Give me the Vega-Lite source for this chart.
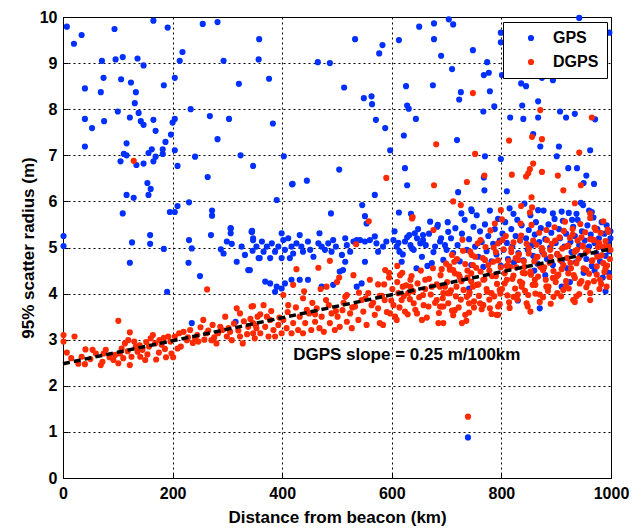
{
"$schema": "https://vega.github.io/schema/vega-lite/v6.json",
"width": 548, "height": 461,
"autosize": {"type": "none"},
"padding": {"left": 63, "top": 17, "right": 29, "bottom": 51},
"background": "white",
"config": {
 "font": "Liberation Sans",
 "view": {"stroke": "#000", "strokeWidth": 1},
 "axis": {"labelFont": "Liberation Sans", "labelFontWeight": "bold", "labelFontSize": 16, "labelColor": "#000", "titleFont": "Liberation Sans", "titleFontWeight": "bold", "titleFontSize": 17, "titleColor": "#000", "domainColor": "#000", "tickColor": "#000", "gridColor": "#000", "gridDash": [2, 3], "gridOpacity": 1, "gridWidth": 1, "tickSize": -5, "labelFlush": false},
 "axisX": {"labelPadding": 12},
 "axisY": {"labelPadding": 11}
},
"layer": [
{
"data": {"values": [
{"d":7,"r":9.79,"s":"GPS"},{"d":20,"r":9.42,"s":"GPS"},{"d":34,"r":9.61,"s":"GPS"},{"d":94,"r":9.74,"s":"GPS"},{"d":165,"r":9.92,"s":"GPS"},{"d":191,"r":9.77,"s":"GPS"},{"d":255,"r":9.85,"s":"GPS"},{"d":282,"r":9.89,"s":"GPS"},{"d":358,"r":9.52,"s":"GPS"},{"d":71,"r":9.05,"s":"GPS"},{"d":96,"r":9.08,"s":"GPS"},{"d":109,"r":9.13,"s":"GPS"},{"d":136,"r":9.10,"s":"GPS"},{"d":147,"r":8.95,"s":"GPS"},{"d":213,"r":9.05,"s":"GPS"},{"d":218,"r":9.24,"s":"GPS"},{"d":293,"r":9.05,"s":"GPS"},{"d":357,"r":9.08,"s":"GPS"},{"d":465,"r":9.02,"s":"GPS"},{"d":487,"r":9.0,"s":"GPS"},{"d":74,"r":8.68,"s":"GPS"},{"d":106,"r":8.65,"s":"GPS"},{"d":124,"r":8.58,"s":"GPS"},{"d":204,"r":8.68,"s":"GPS"},{"d":184,"r":8.52,"s":"GPS"},{"d":321,"r":8.55,"s":"GPS"},{"d":376,"r":8.66,"s":"GPS"},{"d":40,"r":8.45,"s":"GPS"},{"d":69,"r":8.37,"s":"GPS"},{"d":133,"r":8.37,"s":"GPS"},{"d":131,"r":8.13,"s":"GPS"},{"d":233,"r":8.0,"s":"GPS"},{"d":100,"r":7.95,"s":"GPS"},{"d":138,"r":7.92,"s":"GPS"},{"d":268,"r":7.85,"s":"GPS"},{"d":303,"r":7.79,"s":"GPS"},{"d":40,"r":7.79,"s":"GPS"},{"d":75,"r":7.74,"s":"GPS"},{"d":122,"r":7.82,"s":"GPS"},{"d":142,"r":7.74,"s":"GPS"},{"d":147,"r":7.66,"s":"GPS"},{"d":165,"r":7.77,"s":"GPS"},{"d":204,"r":7.79,"s":"GPS"},{"d":200,"r":7.71,"s":"GPS"},{"d":383,"r":7.69,"s":"GPS"},{"d":53,"r":7.59,"s":"GPS"},{"d":169,"r":7.53,"s":"GPS"},{"d":197,"r":7.45,"s":"GPS"},{"d":282,"r":7.35,"s":"GPS"},{"d":187,"r":7.29,"s":"GPS"},{"d":116,"r":7.26,"s":"GPS"},{"d":40,"r":7.19,"s":"GPS"},{"d":204,"r":7.11,"s":"GPS"},{"d":162,"r":7.13,"s":"GPS"},{"d":156,"r":7.05,"s":"GPS"},{"d":182,"r":7.13,"s":"GPS"},{"d":182,"r":7.03,"s":"GPS"},{"d":111,"r":7.03,"s":"GPS"},{"d":116,"r":7.0,"s":"GPS"},{"d":169,"r":6.97,"s":"GPS"},{"d":165,"r":6.87,"s":"GPS"},{"d":241,"r":6.97,"s":"GPS"},{"d":324,"r":7.0,"s":"GPS"},{"d":403,"r":6.98,"s":"GPS"},{"d":105,"r":6.87,"s":"GPS"},{"d":134,"r":6.79,"s":"GPS"},{"d":147,"r":6.82,"s":"GPS"},{"d":209,"r":6.77,"s":"GPS"},{"d":347,"r":6.77,"s":"GPS"},{"d":504,"r":6.69,"s":"GPS"},{"d":264,"r":6.53,"s":"GPS"},{"d":418,"r":6.37,"s":"GPS"},{"d":445,"r":6.45,"s":"GPS"},{"d":154,"r":6.40,"s":"GPS"},{"d":160,"r":6.27,"s":"GPS"},{"d":156,"r":6.14,"s":"GPS"},{"d":116,"r":6.14,"s":"GPS"},{"d":129,"r":6.08,"s":"GPS"},{"d":230,"r":5.98,"s":"GPS"},{"d":390,"r":6.03,"s":"GPS"},{"d":109,"r":5.74,"s":"GPS"},{"d":195,"r":5.77,"s":"GPS"},{"d":204,"r":5.77,"s":"GPS"},{"d":209,"r":5.90,"s":"GPS"},{"d":272,"r":5.80,"s":"GPS"},{"d":272,"r":5.69,"s":"GPS"},{"d":489,"r":5.74,"s":"GPS"},{"d":306,"r":5.41,"s":"GPS"},{"d":345,"r":5.36,"s":"GPS"},
{"d":942,"r":9.98,"s":"GPS"},{"d":997,"r":9.66,"s":"GPS"},{"d":650,"r":9.79,"s":"GPS"},{"d":677,"r":9.86,"s":"GPS"},{"d":704,"r":9.95,"s":"GPS"},{"d":712,"r":9.84,"s":"GPS"},{"d":533,"r":9.52,"s":"GPS"},{"d":613,"r":9.50,"s":"GPS"},{"d":677,"r":9.52,"s":"GPS"},{"d":583,"r":9.39,"s":"GPS"},{"d":577,"r":9.21,"s":"GPS"},{"d":690,"r":9.16,"s":"GPS"},{"d":748,"r":9.28,"s":"GPS"},{"d":799,"r":9.66,"s":"GPS"},{"d":799,"r":9.45,"s":"GPS"},{"d":774,"r":9.02,"s":"GPS"},{"d":710,"r":8.87,"s":"GPS"},{"d":768,"r":8.74,"s":"GPS"},{"d":777,"r":8.79,"s":"GPS"},{"d":801,"r":8.74,"s":"GPS"},{"d":874,"r":8.68,"s":"GPS"},{"d":894,"r":8.63,"s":"GPS"},{"d":513,"r":8.47,"s":"GPS"},{"d":549,"r":8.24,"s":"GPS"},{"d":563,"r":8.28,"s":"GPS"},{"d":564,"r":8.11,"s":"GPS"},{"d":626,"r":8.50,"s":"GPS"},{"d":675,"r":8.52,"s":"GPS"},{"d":726,"r":8.37,"s":"GPS"},{"d":723,"r":8.21,"s":"GPS"},{"d":779,"r":8.39,"s":"GPS"},{"d":836,"r":8.56,"s":"GPS"},{"d":845,"r":8.50,"s":"GPS"},{"d":867,"r":8.17,"s":"GPS"},{"d":787,"r":8.06,"s":"GPS"},{"d":767,"r":7.95,"s":"GPS"},{"d":628,"r":8.08,"s":"GPS"},{"d":631,"r":8.01,"s":"GPS"},{"d":838,"r":8.08,"s":"GPS"},{"d":571,"r":7.77,"s":"GPS"},{"d":644,"r":7.79,"s":"GPS"},{"d":816,"r":7.82,"s":"GPS"},{"d":840,"r":7.79,"s":"GPS"},{"d":867,"r":7.82,"s":"GPS"},{"d":907,"r":7.95,"s":"GPS"},{"d":918,"r":7.82,"s":"GPS"},{"d":934,"r":7.90,"s":"GPS"},{"d":971,"r":7.78,"s":"GPS"},{"d":588,"r":7.59,"s":"GPS"},{"d":622,"r":7.43,"s":"GPS"},{"d":719,"r":7.33,"s":"GPS"},{"d":858,"r":7.46,"s":"GPS"},{"d":871,"r":7.19,"s":"GPS"},{"d":905,"r":7.19,"s":"GPS"},{"d":962,"r":7.11,"s":"GPS"},{"d":597,"r":7.11,"s":"GPS"},{"d":770,"r":6.98,"s":"GPS"},{"d":799,"r":6.92,"s":"GPS"},{"d":901,"r":6.98,"s":"GPS"},{"d":624,"r":6.72,"s":"GPS"},{"d":922,"r":6.72,"s":"GPS"},{"d":938,"r":6.72,"s":"GPS"},{"d":955,"r":6.56,"s":"GPS"},{"d":950,"r":6.40,"s":"GPS"},{"d":969,"r":6.38,"s":"GPS"},{"d":768,"r":6.52,"s":"GPS"},{"d":628,"r":6.35,"s":"GPS"},{"d":769,"r":6.24,"s":"GPS"},{"d":721,"r":6.20,"s":"GPS"},{"d":810,"r":6.22,"s":"GPS"},{"d":569,"r":6.14,"s":"GPS"},{"d":546,"r":5.92,"s":"GPS"},{"d":945,"r":5.97,"s":"GPS"},{"d":745,"r":5.83,"s":"GPS"},{"d":746,"r":5.79,"s":"GPS"},{"d":867,"r":5.81,"s":"GPS"},{"d":613,"r":5.76,"s":"GPS"},{"d":635,"r":5.73,"s":"GPS"},{"d":727,"r":5.74,"s":"GPS"},{"d":551,"r":5.68,"s":"GPS"},{"d":670,"r":5.56,"s":"GPS"},{"d":684,"r":5.49,"s":"GPS"},{"d":822,"r":5.73,"s":"GPS"},{"d":894,"r":5.74,"s":"GPS"},{"d":910,"r":5.78,"s":"GPS"},{"d":929,"r":5.60,"s":"GPS"},{"d":960,"r":5.80,"s":"GPS"},{"d":965,"r":5.77,"s":"GPS"},{"d":937,"r":5.73,"s":"GPS"},
{"d":1,"r":5.25,"s":"GPS"},{"d":1,"r":5.03,"s":"GPS"},{"d":159,"r":5.27,"s":"GPS"},{"d":159,"r":5.08,"s":"GPS"},{"d":126,"r":5.11,"s":"GPS"},{"d":122,"r":4.67,"s":"GPS"},{"d":184,"r":4.97,"s":"GPS"},{"d":190,"r":4.04,"s":"GPS"},{"d":230,"r":5.16,"s":"GPS"},{"d":235,"r":4.98,"s":"GPS"},{"d":229,"r":4.67,"s":"GPS"},{"d":250,"r":4.38,"s":"GPS"},{"d":270,"r":5.27,"s":"GPS"},{"d":306,"r":5.42,"s":"GPS"},{"d":306,"r":5.31,"s":"GPS"},{"d":299,"r":5.13,"s":"GPS"},{"d":288,"r":4.96,"s":"GPS"},{"d":293,"r":4.87,"s":"GPS"},{"d":308,"r":5.08,"s":"GPS"},{"d":317,"r":4.69,"s":"GPS"},{"d":326,"r":5.02,"s":"GPS"},{"d":332,"r":4.84,"s":"GPS"},{"d":338,"r":4.51,"s":"GPS"},{"d":345,"r":5.34,"s":"GPS"},{"d":347,"r":5.16,"s":"GPS"},{"d":346,"r":4.93,"s":"GPS"},{"d":357,"r":4.77,"s":"GPS"},{"d":235,"r":3.36,"s":"GPS"},{"d":315,"r":3.39,"s":"GPS"},
{"d":419,"r":6.38,"s":"GPS"},{"d":703,"r":5.34,"s":"GPS"},{"d":554,"r":5.52,"s":"GPS"},{"d":642,"r":5.31,"s":"GPS"},{"d":657,"r":5.27,"s":"GPS"},
{"d":344,"r":5.34,"s":"GPS"},{"d":347,"r":5.20,"s":"GPS"},{"d":353,"r":5.02,"s":"GPS"},{"d":363,"r":5.13,"s":"GPS"},{"d":366,"r":4.91,"s":"GPS"},{"d":359,"r":4.77,"s":"GPS"},{"d":372,"r":5.02,"s":"GPS"},{"d":378,"r":4.77,"s":"GPS"},{"d":381,"r":5.09,"s":"GPS"},{"d":387,"r":4.91,"s":"GPS"},{"d":393,"r":5.02,"s":"GPS"},{"d":399,"r":5.31,"s":"GPS"},{"d":402,"r":5.16,"s":"GPS"},{"d":405,"r":4.95,"s":"GPS"},{"d":399,"r":4.77,"s":"GPS"},{"d":411,"r":5.20,"s":"GPS"},{"d":417,"r":5.02,"s":"GPS"},{"d":420,"r":4.87,"s":"GPS"},{"d":414,"r":4.77,"s":"GPS"},{"d":432,"r":5.27,"s":"GPS"},{"d":426,"r":5.09,"s":"GPS"},{"d":435,"r":5.02,"s":"GPS"},{"d":438,"r":4.91,"s":"GPS"},{"d":447,"r":5.13,"s":"GPS"},{"d":451,"r":4.95,"s":"GPS"},{"d":457,"r":4.80,"s":"GPS"},{"d":466,"r":5.09,"s":"GPS"},{"d":468,"r":5.31,"s":"GPS"},{"d":472,"r":5.02,"s":"GPS"},{"d":478,"r":4.95,"s":"GPS"},{"d":484,"r":5.09,"s":"GPS"},{"d":490,"r":4.91,"s":"GPS"},{"d":493,"r":5.16,"s":"GPS"},{"d":498,"r":5.02,"s":"GPS"},{"d":509,"r":4.84,"s":"GPS"},{"d":515,"r":5.20,"s":"GPS"},{"d":518,"r":5.05,"s":"GPS"},{"d":524,"r":4.91,"s":"GPS"},{"d":515,"r":4.69,"s":"GPS"},{"d":511,"r":4.51,"s":"GPS"},{"d":530,"r":5.13,"s":"GPS"},{"d":536,"r":5.16,"s":"GPS"},{"d":542,"r":5.16,"s":"GPS"},{"d":551,"r":5.13,"s":"GPS"},{"d":560,"r":5.16,"s":"GPS"},{"d":569,"r":5.24,"s":"GPS"},{"d":572,"r":5.09,"s":"GPS"},{"d":551,"r":4.69,"s":"GPS"},{"d":575,"r":4.91,"s":"GPS"},{"d":584,"r":5.02,"s":"GPS"},{"d":590,"r":5.13,"s":"GPS"},{"d":603,"r":5.16,"s":"GPS"},{"d":609,"r":5.02,"s":"GPS"},{"d":614,"r":4.91,"s":"GPS"},{"d":618,"r":4.69,"s":"GPS"},{"d":624,"r":5.13,"s":"GPS"},{"d":632,"r":5.27,"s":"GPS"},{"d":634,"r":5.05,"s":"GPS"},{"d":637,"r":4.98,"s":"GPS"},{"d":646,"r":5.20,"s":"GPS"},{"d":652,"r":5.09,"s":"GPS"},{"d":657,"r":5.16,"s":"GPS"},{"d":673,"r":4.66,"s":"GPS"},{"d":679,"r":5.02,"s":"GPS"},{"d":688,"r":5.13,"s":"GPS"},{"d":694,"r":4.73,"s":"GPS"},{"d":700,"r":4.95,"s":"GPS"},
{"d":378,"r":4.22,"s":"GPS"},{"d":390,"r":4.15,"s":"GPS"},{"d":399,"r":4.11,"s":"GPS"},{"d":405,"r":4.22,"s":"GPS"},{"d":387,"r":4.04,"s":"GPS"},{"d":369,"r":4.26,"s":"GPS"},{"d":417,"r":4.30,"s":"GPS"},{"d":432,"r":4.30,"s":"GPS"},{"d":447,"r":4.30,"s":"GPS"},{"d":472,"r":4.15,"s":"GPS"},{"d":493,"r":4.19,"s":"GPS"},{"d":505,"r":4.48,"s":"GPS"},{"d":536,"r":4.15,"s":"GPS"},{"d":545,"r":4.22,"s":"GPS"},{"d":341,"r":4.51,"s":"GPS"},
{"d":605,"r":5.35,"s":"GPS"},{"d":612,"r":5.10,"s":"GPS"},{"d":620,"r":4.85,"s":"GPS"},{"d":628,"r":5.22,"s":"GPS"},{"d":640,"r":4.95,"s":"GPS"},{"d":648,"r":5.40,"s":"GPS"},{"d":655,"r":4.80,"s":"GPS"},{"d":662,"r":5.05,"s":"GPS"},{"d":668,"r":5.30,"s":"GPS"},{"d":676,"r":4.90,"s":"GPS"},{"d":683,"r":5.45,"s":"GPS"},{"d":690,"r":5.20,"s":"GPS"},{"d":697,"r":5.05,"s":"GPS"},{"d":665,"r":4.60,"s":"GPS"},{"d":645,"r":4.55,"s":"GPS"},
{"d":702,"r":5.55,"s":"GPS"},{"d":708,"r":5.20,"s":"GPS"},{"d":712,"r":4.88,"s":"GPS"},{"d":716,"r":5.42,"s":"GPS"},{"d":720,"r":5.05,"s":"GPS"},{"d":724,"r":4.70,"s":"GPS"},{"d":728,"r":5.30,"s":"GPS"},{"d":733,"r":5.60,"s":"GPS"},{"d":737,"r":4.95,"s":"GPS"},{"d":741,"r":5.18,"s":"GPS"},{"d":745,"r":4.62,"s":"GPS"},{"d":749,"r":5.45,"s":"GPS"},{"d":752,"r":5.02,"s":"GPS"},{"d":755,"r":5.70,"s":"GPS"},{"d":758,"r":4.80,"s":"GPS"},{"d":761,"r":5.35,"s":"GPS"},{"d":764,"r":5.12,"s":"GPS"},{"d":767,"r":4.58,"s":"GPS"},{"d":770,"r":5.50,"s":"GPS"},{"d":773,"r":4.92,"s":"GPS"},{"d":776,"r":5.25,"s":"GPS"},{"d":779,"r":5.80,"s":"GPS"},{"d":782,"r":4.70,"s":"GPS"},{"d":785,"r":5.08,"s":"GPS"},{"d":788,"r":5.40,"s":"GPS"},{"d":791,"r":4.85,"s":"GPS"},{"d":794,"r":5.62,"s":"GPS"},{"d":797,"r":5.15,"s":"GPS"},{"d":799,"r":4.60,"s":"GPS"},{"d":802,"r":5.30,"s":"GPS"},{"d":804,"r":4.95,"s":"GPS"},{"d":807,"r":5.55,"s":"GPS"},{"d":810,"r":5.10,"s":"GPS"},{"d":812,"r":4.75,"s":"GPS"},{"d":815,"r":5.85,"s":"GPS"},{"d":818,"r":5.40,"s":"GPS"},{"d":820,"r":5.02,"s":"GPS"},{"d":823,"r":4.68,"s":"GPS"},{"d":826,"r":5.25,"s":"GPS"},{"d":829,"r":5.60,"s":"GPS"},{"d":831,"r":4.88,"s":"GPS"},{"d":834,"r":5.15,"s":"GPS"},{"d":837,"r":5.48,"s":"GPS"},{"d":840,"r":4.72,"s":"GPS"},{"d":842,"r":5.95,"s":"GPS"},{"d":845,"r":5.20,"s":"GPS"},{"d":848,"r":4.95,"s":"GPS"},{"d":850,"r":5.38,"s":"GPS"},{"d":853,"r":5.70,"s":"GPS"},{"d":855,"r":5.05,"s":"GPS"},{"d":858,"r":4.82,"s":"GPS"},{"d":861,"r":5.28,"s":"GPS"},{"d":863,"r":5.55,"s":"GPS"},{"d":866,"r":4.65,"s":"GPS"},{"d":869,"r":5.12,"s":"GPS"},{"d":872,"r":5.42,"s":"GPS"},{"d":875,"r":4.90,"s":"GPS"},{"d":877,"r":5.80,"s":"GPS"},{"d":880,"r":5.18,"s":"GPS"},{"d":883,"r":4.75,"s":"GPS"},{"d":886,"r":5.50,"s":"GPS"},{"d":889,"r":5.00,"s":"GPS"},{"d":891,"r":5.32,"s":"GPS"},{"d":894,"r":4.62,"s":"GPS"},{"d":897,"r":5.62,"s":"GPS"},{"d":899,"r":5.10,"s":"GPS"},{"d":902,"r":4.85,"s":"GPS"},{"d":905,"r":5.40,"s":"GPS"},{"d":907,"r":5.20,"s":"GPS"},{"d":910,"r":4.70,"s":"GPS"},{"d":912,"r":5.58,"s":"GPS"},{"d":915,"r":5.02,"s":"GPS"},{"d":918,"r":5.30,"s":"GPS"},{"d":920,"r":4.55,"s":"GPS"},{"d":923,"r":5.75,"s":"GPS"},{"d":926,"r":5.12,"s":"GPS"},{"d":928,"r":4.90,"s":"GPS"},{"d":931,"r":5.45,"s":"GPS"},{"d":934,"r":5.25,"s":"GPS"},{"d":936,"r":4.68,"s":"GPS"},{"d":939,"r":5.60,"s":"GPS"},{"d":942,"r":5.05,"s":"GPS"},{"d":944,"r":4.82,"s":"GPS"},{"d":947,"r":5.35,"s":"GPS"},{"d":949,"r":5.92,"s":"GPS"},{"d":952,"r":5.15,"s":"GPS"},{"d":955,"r":4.75,"s":"GPS"},{"d":957,"r":5.48,"s":"GPS"},{"d":960,"r":5.02,"s":"GPS"},{"d":963,"r":5.28,"s":"GPS"},{"d":965,"r":4.60,"s":"GPS"},{"d":968,"r":5.65,"s":"GPS"},{"d":970,"r":5.10,"s":"GPS"},{"d":973,"r":4.88,"s":"GPS"},{"d":975,"r":5.40,"s":"GPS"},{"d":978,"r":5.20,"s":"GPS"},{"d":980,"r":4.70,"s":"GPS"},{"d":983,"r":5.55,"s":"GPS"},{"d":985,"r":5.00,"s":"GPS"},{"d":988,"r":5.30,"s":"GPS"},{"d":990,"r":4.82,"s":"GPS"},{"d":992,"r":5.48,"s":"GPS"},{"d":995,"r":5.12,"s":"GPS"},{"d":997,"r":4.92,"s":"GPS"},{"d":999,"r":5.35,"s":"GPS"},{"d":999,"r":5.20,"s":"GPS"},{"d":996,"r":4.45,"s":"GPS"},{"d":985,"r":4.35,"s":"GPS"},{"d":970,"r":4.50,"s":"GPS"},{"d":880,"r":4.40,"s":"GPS"},{"d":925,"r":4.25,"s":"GPS"},{"d":950,"r":4.45,"s":"GPS"},{"d":860,"r":4.50,"s":"GPS"},{"d":990,"r":4.05,"s":"GPS"},
{"d":741,"r":4.11,"s":"GPS"},{"d":830,"r":3.85,"s":"GPS"},{"d":870,"r":3.68,"s":"GPS"},{"d":910,"r":4.15,"s":"GPS"},{"d":739,"r":0.88,"s":"GPS"},
{"d":129,"r":6.88,"s":"DGPS"},{"d":748,"r":8.35,"s":"DGPS"},{"d":871,"r":7.98,"s":"DGPS"},{"d":965,"r":7.82,"s":"DGPS"},{"d":681,"r":7.24,"s":"DGPS"},{"d":814,"r":7.32,"s":"DGPS"},{"d":856,"r":7.40,"s":"DGPS"},{"d":874,"r":7.35,"s":"DGPS"},{"d":752,"r":7.03,"s":"DGPS"},{"d":942,"r":7.06,"s":"DGPS"},{"d":858,"r":6.82,"s":"DGPS"},{"d":852,"r":6.70,"s":"DGPS"},{"d":849,"r":6.61,"s":"DGPS"},{"d":845,"r":6.54,"s":"DGPS"},{"d":874,"r":6.64,"s":"DGPS"},{"d":819,"r":6.58,"s":"DGPS"},{"d":903,"r":6.56,"s":"DGPS"},{"d":769,"r":6.56,"s":"DGPS"},{"d":590,"r":6.51,"s":"DGPS"},{"d":737,"r":6.42,"s":"DGPS"},{"d":677,"r":6.35,"s":"DGPS"},{"d":945,"r":6.35,"s":"DGPS"},{"d":913,"r":6.24,"s":"DGPS"},{"d":712,"r":6.00,"s":"DGPS"},{"d":726,"r":5.92,"s":"DGPS"},{"d":855,"r":6.09,"s":"DGPS"},{"d":836,"r":5.90,"s":"DGPS"},{"d":934,"r":5.96,"s":"DGPS"},{"d":852,"r":5.76,"s":"DGPS"},{"d":856,"r":5.87,"s":"DGPS"},{"d":799,"r":5.81,"s":"DGPS"},{"d":962,"r":5.74,"s":"DGPS"},{"d":558,"r":5.57,"s":"DGPS"},{"d":637,"r":5.63,"s":"DGPS"},{"d":801,"r":5.61,"s":"DGPS"},{"d":788,"r":5.52,"s":"DGPS"},{"d":835,"r":5.52,"s":"DGPS"},{"d":638,"r":5.66,"s":"DGPS"},{"d":676,"r":5.38,"s":"DGPS"},{"d":535,"r":5.07,"s":"DGPS"},{"d":487,"r":4.71,"s":"DGPS"},{"d":426,"r":4.53,"s":"DGPS"},{"d":466,"r":4.56,"s":"DGPS"},{"d":504,"r":4.35,"s":"DGPS"},{"d":420,"r":4.19,"s":"DGPS"},{"d":588,"r":4.51,"s":"DGPS"},{"d":691,"r":4.53,"s":"DGPS"},{"d":615,"r":4.40,"s":"DGPS"},{"d":634,"r":4.30,"s":"DGPS"},{"d":661,"r":4.30,"s":"DGPS"},{"d":263,"r":4.09,"s":"DGPS"},{"d":101,"r":3.41,"s":"DGPS"},{"d":739,"r":1.33,"s":"DGPS"},
{"d":1,"r":3.10,"s":"DGPS"},{"d":1,"r":2.96,"s":"DGPS"},{"d":7,"r":2.72,"s":"DGPS"},{"d":21,"r":3.07,"s":"DGPS"},{"d":40,"r":2.47,"s":"DGPS"},{"d":34,"r":2.63,"s":"DGPS"},{"d":41,"r":2.79,"s":"DGPS"},{"d":54,"r":2.78,"s":"DGPS"},{"d":69,"r":2.45,"s":"DGPS"},{"d":72,"r":2.52,"s":"DGPS"},{"d":74,"r":2.70,"s":"DGPS"},{"d":78,"r":2.78,"s":"DGPS"},{"d":92,"r":2.56,"s":"DGPS"},{"d":95,"r":2.67,"s":"DGPS"},{"d":101,"r":2.49,"s":"DGPS"},{"d":104,"r":2.70,"s":"DGPS"},{"d":107,"r":2.81,"s":"DGPS"},{"d":113,"r":2.92,"s":"DGPS"},{"d":119,"r":2.99,"s":"DGPS"},{"d":122,"r":3.16,"s":"DGPS"},{"d":122,"r":2.45,"s":"DGPS"},{"d":125,"r":2.63,"s":"DGPS"},{"d":130,"r":2.96,"s":"DGPS"},{"d":133,"r":2.85,"s":"DGPS"},{"d":136,"r":2.74,"s":"DGPS"},{"d":141,"r":2.63,"s":"DGPS"},{"d":145,"r":2.78,"s":"DGPS"},{"d":150,"r":2.56,"s":"DGPS"},{"d":154,"r":2.68,"s":"DGPS"},{"d":157,"r":2.85,"s":"DGPS"},{"d":160,"r":3.03,"s":"DGPS"},{"d":164,"r":3.10,"s":"DGPS"},{"d":168,"r":2.92,"s":"DGPS"},{"d":170,"r":2.57,"s":"DGPS"},{"d":176,"r":2.99,"s":"DGPS"},{"d":180,"r":2.89,"s":"DGPS"},{"d":184,"r":3.04,"s":"DGPS"},{"d":188,"r":2.62,"s":"DGPS"},{"d":192,"r":3.07,"s":"DGPS"},{"d":196,"r":2.96,"s":"DGPS"},{"d":201,"r":2.62,"s":"DGPS"},{"d":204,"r":3.07,"s":"DGPS"},{"d":209,"r":2.81,"s":"DGPS"},{"d":212,"r":3.14,"s":"DGPS"},{"d":220,"r":3.17,"s":"DGPS"},{"d":226,"r":2.99,"s":"DGPS"},{"d":232,"r":3.21,"s":"DGPS"},{"d":237,"r":2.93,"s":"DGPS"},{"d":241,"r":3.03,"s":"DGPS"},{"d":247,"r":2.96,"s":"DGPS"},{"d":251,"r":3.27,"s":"DGPS"},{"d":256,"r":3.43,"s":"DGPS"},{"d":262,"r":3.14,"s":"DGPS"},{"d":271,"r":2.99,"s":"DGPS"},{"d":273,"r":3.32,"s":"DGPS"},{"d":280,"r":2.92,"s":"DGPS"},{"d":283,"r":3.14,"s":"DGPS"},{"d":291,"r":3.21,"s":"DGPS"},{"d":296,"r":3.50,"s":"DGPS"},{"d":299,"r":3.07,"s":"DGPS"},{"d":305,"r":3.17,"s":"DGPS"},{"d":308,"r":2.99,"s":"DGPS"},{"d":317,"r":3.68,"s":"DGPS"},{"d":323,"r":3.57,"s":"DGPS"},{"d":323,"r":3.07,"s":"DGPS"},{"d":328,"r":2.92,"s":"DGPS"},{"d":338,"r":3.28,"s":"DGPS"},{"d":347,"r":3.73,"s":"DGPS"},{"d":347,"r":3.14,"s":"DGPS"},{"d":355,"r":3.50,"s":"DGPS"},
{"d":15,"r":2.60,"s":"DGPS"},{"d":50,"r":2.58,"s":"DGPS"},{"d":85,"r":2.62,"s":"DGPS"},{"d":60,"r":2.70,"s":"DGPS"},{"d":28,"r":2.48,"s":"DGPS"},
{"d":110,"r":2.60,"s":"DGPS"},{"d":118,"r":2.75,"s":"DGPS"},{"d":140,"r":2.88,"s":"DGPS"},{"d":152,"r":2.95,"s":"DGPS"},{"d":175,"r":2.72,"s":"DGPS"},{"d":186,"r":2.80,"s":"DGPS"},{"d":198,"r":2.70,"s":"DGPS"},{"d":215,"r":2.85,"s":"DGPS"},{"d":228,"r":3.05,"s":"DGPS"},{"d":245,"r":3.10,"s":"DGPS"},{"d":258,"r":3.00,"s":"DGPS"},{"d":265,"r":3.20,"s":"DGPS"},{"d":276,"r":3.05,"s":"DGPS"},{"d":287,"r":3.28,"s":"DGPS"},{"d":302,"r":3.25,"s":"DGPS"},{"d":312,"r":3.35,"s":"DGPS"},{"d":320,"r":3.20,"s":"DGPS"},{"d":330,"r":3.40,"s":"DGPS"},{"d":336,"r":3.12,"s":"DGPS"},{"d":342,"r":3.45,"s":"DGPS"},{"d":352,"r":3.30,"s":"DGPS"},{"d":360,"r":3.55,"s":"DGPS"},{"d":372,"r":3.50,"s":"DGPS"},{"d":380,"r":3.62,"s":"DGPS"},{"d":395,"r":3.48,"s":"DGPS"},{"d":410,"r":3.60,"s":"DGPS"},{"d":425,"r":3.70,"s":"DGPS"},{"d":445,"r":3.65,"s":"DGPS"},{"d":460,"r":3.55,"s":"DGPS"},{"d":485,"r":3.75,"s":"DGPS"},{"d":498,"r":3.62,"s":"DGPS"},{"d":512,"r":3.80,"s":"DGPS"},{"d":528,"r":3.70,"s":"DGPS"},{"d":552,"r":3.90,"s":"DGPS"},{"d":566,"r":3.80,"s":"DGPS"},{"d":578,"r":3.95,"s":"DGPS"},
{"d":347,"r":3.36,"s":"DGPS"},{"d":353,"r":3.25,"s":"DGPS"},{"d":350,"r":3.03,"s":"DGPS"},{"d":360,"r":3.14,"s":"DGPS"},{"d":366,"r":3.75,"s":"DGPS"},{"d":369,"r":3.28,"s":"DGPS"},{"d":375,"r":3.07,"s":"DGPS"},{"d":378,"r":3.43,"s":"DGPS"},{"d":384,"r":3.21,"s":"DGPS"},{"d":387,"r":3.07,"s":"DGPS"},{"d":393,"r":3.32,"s":"DGPS"},{"d":399,"r":3.14,"s":"DGPS"},{"d":402,"r":3.43,"s":"DGPS"},{"d":408,"r":3.25,"s":"DGPS"},{"d":411,"r":3.75,"s":"DGPS"},{"d":417,"r":3.14,"s":"DGPS"},{"d":420,"r":3.36,"s":"DGPS"},{"d":429,"r":3.21,"s":"DGPS"},{"d":432,"r":3.50,"s":"DGPS"},{"d":438,"r":3.14,"s":"DGPS"},{"d":442,"r":3.36,"s":"DGPS"},{"d":449,"r":3.57,"s":"DGPS"},{"d":453,"r":3.21,"s":"DGPS"},{"d":460,"r":3.39,"s":"DGPS"},{"d":463,"r":3.68,"s":"DGPS"},{"d":468,"r":3.25,"s":"DGPS"},{"d":472,"r":3.50,"s":"DGPS"},{"d":476,"r":3.17,"s":"DGPS"},{"d":480,"r":3.86,"s":"DGPS"},{"d":481,"r":4.15,"s":"DGPS"},{"d":487,"r":3.36,"s":"DGPS"},{"d":490,"r":3.57,"s":"DGPS"},{"d":496,"r":3.21,"s":"DGPS"},{"d":501,"r":3.50,"s":"DGPS"},{"d":505,"r":3.28,"s":"DGPS"},{"d":510,"r":3.64,"s":"DGPS"},{"d":515,"r":3.93,"s":"DGPS"},{"d":518,"r":3.39,"s":"DGPS"},{"d":524,"r":3.57,"s":"DGPS"},{"d":527,"r":3.25,"s":"DGPS"},{"d":533,"r":3.72,"s":"DGPS"},{"d":539,"r":3.43,"s":"DGPS"},{"d":545,"r":3.86,"s":"DGPS"},{"d":548,"r":3.61,"s":"DGPS"},{"d":554,"r":3.32,"s":"DGPS"},{"d":557,"r":4.01,"s":"DGPS"},{"d":563,"r":3.75,"s":"DGPS"},{"d":569,"r":3.54,"s":"DGPS"},{"d":575,"r":3.68,"s":"DGPS"},{"d":578,"r":3.36,"s":"DGPS"},{"d":584,"r":3.32,"s":"DGPS"},{"d":587,"r":3.86,"s":"DGPS"},{"d":597,"r":3.57,"s":"DGPS"},{"d":603,"r":3.75,"s":"DGPS"},{"d":609,"r":3.43,"s":"DGPS"},{"d":612,"r":4.01,"s":"DGPS"},{"d":618,"r":3.86,"s":"DGPS"},{"d":624,"r":3.61,"s":"DGPS"},{"d":630,"r":4.01,"s":"DGPS"},{"d":634,"r":4.15,"s":"DGPS"},{"d":640,"r":3.79,"s":"DGPS"},{"d":646,"r":3.57,"s":"DGPS"},{"d":655,"r":3.43,"s":"DGPS"},{"d":657,"r":3.97,"s":"DGPS"},{"d":667,"r":3.72,"s":"DGPS"},{"d":673,"r":4.15,"s":"DGPS"},{"d":682,"r":3.86,"s":"DGPS"},{"d":685,"r":3.36,"s":"DGPS"},{"d":691,"r":3.72,"s":"DGPS"},{"d":694,"r":4.01,"s":"DGPS"},{"d":344,"r":3.72,"s":"DGPS"},
{"d":402,"r":3.97,"s":"DGPS"},{"d":438,"r":3.90,"s":"DGPS"},{"d":518,"r":3.97,"s":"DGPS"},{"d":688,"r":3.72,"s":"DGPS"},{"d":440,"r":4.05,"s":"DGPS"},{"d":470,"r":4.10,"s":"DGPS"},{"d":455,"r":3.80,"s":"DGPS"},{"d":500,"r":4.25,"s":"DGPS"},{"d":530,"r":4.40,"s":"DGPS"},{"d":560,"r":4.30,"s":"DGPS"},{"d":540,"r":4.02,"s":"DGPS"},{"d":575,"r":4.20,"s":"DGPS"},{"d":595,"r":4.45,"s":"DGPS"},{"d":610,"r":4.60,"s":"DGPS"},{"d":620,"r":4.15,"s":"DGPS"},
{"d":582,"r":3.95,"s":"DGPS"},{"d":586,"r":4.20,"s":"DGPS"},{"d":591,"r":3.60,"s":"DGPS"},{"d":595,"r":4.35,"s":"DGPS"},{"d":599,"r":3.85,"s":"DGPS"},{"d":601,"r":4.10,"s":"DGPS"},{"d":606,"r":3.50,"s":"DGPS"},{"d":610,"r":4.25,"s":"DGPS"},{"d":614,"r":3.70,"s":"DGPS"},{"d":619,"r":4.45,"s":"DGPS"},{"d":622,"r":3.95,"s":"DGPS"},{"d":626,"r":4.18,"s":"DGPS"},{"d":629,"r":3.55,"s":"DGPS"},{"d":633,"r":3.88,"s":"DGPS"},{"d":636,"r":4.38,"s":"DGPS"},{"d":639,"r":4.05,"s":"DGPS"},{"d":643,"r":3.65,"s":"DGPS"},{"d":647,"r":4.22,"s":"DGPS"},{"d":650,"r":3.92,"s":"DGPS"},{"d":653,"r":4.50,"s":"DGPS"},{"d":658,"r":3.75,"s":"DGPS"},{"d":661,"r":4.10,"s":"DGPS"},{"d":664,"r":3.48,"s":"DGPS"},{"d":668,"r":4.32,"s":"DGPS"},{"d":671,"r":3.98,"s":"DGPS"},{"d":675,"r":4.55,"s":"DGPS"},{"d":679,"r":3.80,"s":"DGPS"},{"d":682,"r":4.20,"s":"DGPS"},{"d":686,"r":3.58,"s":"DGPS"},{"d":689,"r":4.40,"s":"DGPS"},{"d":693,"r":3.90,"s":"DGPS"},{"d":697,"r":4.15,"s":"DGPS"},{"d":699,"r":4.65,"s":"DGPS"},
{"d":688,"r":4.15,"s":"DGPS"},{"d":694,"r":3.72,"s":"DGPS"},{"d":706,"r":4.01,"s":"DGPS"},{"d":712,"r":4.51,"s":"DGPS"},{"d":726,"r":4.30,"s":"DGPS"},{"d":728,"r":3.36,"s":"DGPS"},{"d":737,"r":3.93,"s":"DGPS"},{"d":745,"r":4.44,"s":"DGPS"},{"d":748,"r":4.15,"s":"DGPS"},{"d":761,"r":3.79,"s":"DGPS"},{"d":767,"r":4.30,"s":"DGPS"},{"d":779,"r":3.68,"s":"DGPS"},{"d":782,"r":4.01,"s":"DGPS"},{"d":794,"r":3.54,"s":"DGPS"},{"d":797,"r":4.08,"s":"DGPS"},{"d":810,"r":4.30,"s":"DGPS"},{"d":816,"r":4.58,"s":"DGPS"},{"d":822,"r":3.93,"s":"DGPS"},{"d":831,"r":4.73,"s":"DGPS"},{"d":837,"r":4.15,"s":"DGPS"},{"d":843,"r":4.44,"s":"DGPS"},{"d":849,"r":3.97,"s":"DGPS"},{"d":853,"r":3.61,"s":"DGPS"},{"d":861,"r":4.30,"s":"DGPS"},{"d":864,"r":4.80,"s":"DGPS"},{"d":870,"r":3.82,"s":"DGPS"},{"d":876,"r":4.51,"s":"DGPS"},{"d":882,"r":4.15,"s":"DGPS"},{"d":889,"r":4.95,"s":"DGPS"},{"d":895,"r":3.93,"s":"DGPS"},{"d":901,"r":4.37,"s":"DGPS"},{"d":907,"r":4.73,"s":"DGPS"},{"d":913,"r":4.08,"s":"DGPS"},{"d":919,"r":5.02,"s":"DGPS"},{"d":922,"r":4.44,"s":"DGPS"},{"d":931,"r":3.86,"s":"DGPS"},{"d":937,"r":4.66,"s":"DGPS"},{"d":943,"r":4.22,"s":"DGPS"},{"d":949,"r":5.02,"s":"DGPS"},{"d":955,"r":4.51,"s":"DGPS"},{"d":962,"r":4.01,"s":"DGPS"},{"d":969,"r":5.16,"s":"DGPS"},{"d":975,"r":4.80,"s":"DGPS"},{"d":980,"r":4.30,"s":"DGPS"},{"d":986,"r":4.66,"s":"DGPS"},{"d":992,"r":4.15,"s":"DGPS"},{"d":995,"r":5.02,"s":"DGPS"},
{"d":694,"r":3.36,"s":"DGPS"},{"d":715,"r":3.64,"s":"DGPS"},{"d":741,"r":3.59,"s":"DGPS"},{"d":741,"r":3.79,"s":"DGPS"},{"d":767,"r":3.75,"s":"DGPS"},{"d":791,"r":3.54,"s":"DGPS"},{"d":794,"r":3.72,"s":"DGPS"},{"d":934,"r":3.82,"s":"DGPS"},{"d":962,"r":3.86,"s":"DGPS"},
{"d":701,"r":4.25,"s":"DGPS"},{"d":703,"r":3.79,"s":"DGPS"},{"d":705,"r":4.59,"s":"DGPS"},{"d":708,"r":4.07,"s":"DGPS"},{"d":710,"r":4.84,"s":"DGPS"},{"d":712,"r":3.53,"s":"DGPS"},{"d":715,"r":4.44,"s":"DGPS"},{"d":717,"r":3.94,"s":"DGPS"},{"d":719,"r":4.75,"s":"DGPS"},{"d":722,"r":3.70,"s":"DGPS"},{"d":724,"r":4.36,"s":"DGPS"},{"d":727,"r":4.27,"s":"DGPS"},{"d":729,"r":5.17,"s":"DGPS"},{"d":731,"r":4.08,"s":"DGPS"},{"d":734,"r":4.64,"s":"DGPS"},{"d":736,"r":3.41,"s":"DGPS"},{"d":738,"r":4.50,"s":"DGPS"},{"d":741,"r":3.98,"s":"DGPS"},{"d":743,"r":4.91,"s":"DGPS"},{"d":745,"r":4.26,"s":"DGPS"},{"d":748,"r":4.62,"s":"DGPS"},{"d":750,"r":3.70,"s":"DGPS"},{"d":752,"r":4.80,"s":"DGPS"},{"d":755,"r":4.19,"s":"DGPS"},{"d":757,"r":5.09,"s":"DGPS"},{"d":759,"r":3.95,"s":"DGPS"},{"d":762,"r":4.48,"s":"DGPS"},{"d":764,"r":3.66,"s":"DGPS"},{"d":766,"r":4.77,"s":"DGPS"},{"d":769,"r":4.31,"s":"DGPS"},{"d":771,"r":5.01,"s":"DGPS"},{"d":773,"r":4.10,"s":"DGPS"},{"d":776,"r":4.62,"s":"DGPS"},{"d":778,"r":3.87,"s":"DGPS"},{"d":780,"r":5.37,"s":"DGPS"},{"d":783,"r":4.38,"s":"DGPS"},{"d":785,"r":4.69,"s":"DGPS"},{"d":787,"r":3.94,"s":"DGPS"},{"d":790,"r":4.90,"s":"DGPS"},{"d":792,"r":4.21,"s":"DGPS"},{"d":794,"r":5.09,"s":"DGPS"},{"d":797,"r":3.77,"s":"DGPS"},{"d":799,"r":4.57,"s":"DGPS"},{"d":801,"r":4.10,"s":"DGPS"},{"d":804,"r":4.96,"s":"DGPS"},{"d":806,"r":4.44,"s":"DGPS"},{"d":808,"r":5.25,"s":"DGPS"},{"d":811,"r":3.96,"s":"DGPS"},{"d":813,"r":4.71,"s":"DGPS"},{"d":815,"r":3.69,"s":"DGPS"},{"d":818,"r":4.90,"s":"DGPS"},{"d":820,"r":4.32,"s":"DGPS"},{"d":822,"r":5.11,"s":"DGPS"},{"d":825,"r":4.11,"s":"DGPS"},{"d":827,"r":4.57,"s":"DGPS"},{"d":829,"r":3.87,"s":"DGPS"},{"d":832,"r":4.85,"s":"DGPS"},{"d":834,"r":4.26,"s":"DGPS"},{"d":836,"r":5.26,"s":"DGPS"},{"d":839,"r":4.45,"s":"DGPS"},{"d":841,"r":4.70,"s":"DGPS"},{"d":843,"r":4.06,"s":"DGPS"},{"d":846,"r":5.08,"s":"DGPS"},{"d":848,"r":3.72,"s":"DGPS"},{"d":850,"r":4.87,"s":"DGPS"},{"d":853,"r":4.48,"s":"DGPS"},{"d":855,"r":5.49,"s":"DGPS"},{"d":857,"r":4.19,"s":"DGPS"},{"d":860,"r":4.70,"s":"DGPS"},{"d":862,"r":4.00,"s":"DGPS"},{"d":864,"r":5.06,"s":"DGPS"},{"d":867,"r":4.37,"s":"DGPS"},{"d":869,"r":5.32,"s":"DGPS"},{"d":871,"r":4.58,"s":"DGPS"},{"d":874,"r":4.99,"s":"DGPS"},{"d":876,"r":3.92,"s":"DGPS"},{"d":878,"r":4.85,"s":"DGPS"},{"d":881,"r":4.30,"s":"DGPS"},{"d":883,"r":5.16,"s":"DGPS"},{"d":885,"r":4.06,"s":"DGPS"},{"d":888,"r":4.67,"s":"DGPS"},{"d":890,"r":3.78,"s":"DGPS"},{"d":892,"r":5.08,"s":"DGPS"},{"d":895,"r":4.49,"s":"DGPS"},{"d":897,"r":5.44,"s":"DGPS"},{"d":899,"r":4.25,"s":"DGPS"},{"d":902,"r":4.86,"s":"DGPS"},{"d":904,"r":4.41,"s":"DGPS"},{"d":906,"r":5.22,"s":"DGPS"},{"d":909,"r":3.94,"s":"DGPS"},{"d":911,"r":4.98,"s":"DGPS"},{"d":913,"r":4.62,"s":"DGPS"},{"d":916,"r":5.56,"s":"DGPS"},{"d":918,"r":4.27,"s":"DGPS"},{"d":920,"r":4.77,"s":"DGPS"},{"d":923,"r":4.11,"s":"DGPS"},{"d":925,"r":5.21,"s":"DGPS"},{"d":927,"r":4.55,"s":"DGPS"},{"d":930,"r":5.40,"s":"DGPS"},{"d":932,"r":4.40,"s":"DGPS"},{"d":934,"r":4.91,"s":"DGPS"},{"d":937,"r":3.94,"s":"DGPS"},{"d":939,"r":5.15,"s":"DGPS"},{"d":941,"r":4.76,"s":"DGPS"},{"d":944,"r":5.51,"s":"DGPS"},{"d":946,"r":4.27,"s":"DGPS"},{"d":948,"r":5.04,"s":"DGPS"},{"d":951,"r":4.53,"s":"DGPS"},{"d":953,"r":5.33,"s":"DGPS"},{"d":955,"r":4.14,"s":"DGPS"},{"d":958,"r":4.93,"s":"DGPS"},{"d":960,"r":4.43,"s":"DGPS"},{"d":962,"r":5.64,"s":"DGPS"},{"d":965,"r":4.71,"s":"DGPS"},{"d":967,"r":5.17,"s":"DGPS"},{"d":969,"r":4.27,"s":"DGPS"},{"d":972,"r":5.38,"s":"DGPS"},{"d":974,"r":4.59,"s":"DGPS"},{"d":976,"r":5.01,"s":"DGPS"},{"d":979,"r":4.10,"s":"DGPS"},{"d":981,"r":5.32,"s":"DGPS"},{"d":983,"r":4.83,"s":"DGPS"},{"d":986,"r":5.57,"s":"DGPS"},{"d":988,"r":4.47,"s":"DGPS"},{"d":990,"r":5.14,"s":"DGPS"},{"d":993,"r":4.61,"s":"DGPS"},{"d":995,"r":5.34,"s":"DGPS"},{"d":997,"r":4.36,"s":"DGPS"},{"d":999,"r":4.95,"s":"DGPS"},
{"d":702,"r":4.01,"s":"DGPS"},{"d":706,"r":4.52,"s":"DGPS"},{"d":710,"r":3.63,"s":"DGPS"},{"d":714,"r":4.69,"s":"DGPS"},{"d":718,"r":4.15,"s":"DGPS"},{"d":722,"r":4.41,"s":"DGPS"},{"d":726,"r":3.87,"s":"DGPS"},{"d":730,"r":4.93,"s":"DGPS"},{"d":734,"r":3.54,"s":"DGPS"},{"d":738,"r":4.35,"s":"DGPS"},{"d":742,"r":4.03,"s":"DGPS"},{"d":746,"r":4.84,"s":"DGPS"},{"d":750,"r":3.83,"s":"DGPS"},{"d":754,"r":4.56,"s":"DGPS"},{"d":758,"r":4.20,"s":"DGPS"},{"d":762,"r":5.16,"s":"DGPS"},{"d":766,"r":3.75,"s":"DGPS"},{"d":770,"r":4.73,"s":"DGPS"},{"d":774,"r":4.04,"s":"DGPS"},{"d":778,"r":4.50,"s":"DGPS"},{"d":782,"r":3.56,"s":"DGPS"},{"d":786,"r":5.00,"s":"DGPS"},{"d":790,"r":4.38,"s":"DGPS"},{"d":794,"r":4.72,"s":"DGPS"},{"d":798,"r":4.00,"s":"DGPS"},{"d":802,"r":5.16,"s":"DGPS"},{"d":806,"r":4.22,"s":"DGPS"},{"d":810,"r":4.60,"s":"DGPS"},{"d":814,"r":3.81,"s":"DGPS"},{"d":818,"r":4.98,"s":"DGPS"},{"d":822,"r":4.39,"s":"DGPS"},{"d":826,"r":4.77,"s":"DGPS"},{"d":830,"r":3.98,"s":"DGPS"},{"d":834,"r":5.16,"s":"DGPS"},{"d":838,"r":4.23,"s":"DGPS"},{"d":842,"r":4.58,"s":"DGPS"},{"d":846,"r":3.79,"s":"DGPS"},{"d":850,"r":4.98,"s":"DGPS"},{"d":854,"r":4.41,"s":"DGPS"},{"d":858,"r":5.15,"s":"DGPS"},{"d":862,"r":4.19,"s":"DGPS"},{"d":866,"r":4.80,"s":"DGPS"},{"d":870,"r":3.98,"s":"DGPS"},{"d":874,"r":4.94,"s":"DGPS"},{"d":878,"r":4.57,"s":"DGPS"},{"d":882,"r":5.38,"s":"DGPS"},{"d":886,"r":4.15,"s":"DGPS"},{"d":890,"r":4.80,"s":"DGPS"},{"d":894,"r":4.34,"s":"DGPS"},{"d":898,"r":5.15,"s":"DGPS"},{"d":902,"r":4.01,"s":"DGPS"},{"d":906,"r":4.80,"s":"DGPS"},{"d":910,"r":4.53,"s":"DGPS"},{"d":914,"r":5.36,"s":"DGPS"},{"d":918,"r":4.17,"s":"DGPS"},{"d":922,"r":5.04,"s":"DGPS"},{"d":926,"r":4.67,"s":"DGPS"},{"d":930,"r":5.28,"s":"DGPS"},{"d":934,"r":4.34,"s":"DGPS"},{"d":938,"r":4.95,"s":"DGPS"},{"d":942,"r":3.99,"s":"DGPS"},{"d":946,"r":5.22,"s":"DGPS"},{"d":950,"r":4.55,"s":"DGPS"},{"d":954,"r":4.89,"s":"DGPS"},{"d":958,"r":4.23,"s":"DGPS"},{"d":962,"r":5.18,"s":"DGPS"},{"d":966,"r":4.72,"s":"DGPS"},{"d":970,"r":5.43,"s":"DGPS"},{"d":974,"r":4.41,"s":"DGPS"},{"d":978,"r":5.10,"s":"DGPS"},{"d":982,"r":4.21,"s":"DGPS"},{"d":986,"r":5.02,"s":"DGPS"},{"d":990,"r":4.55,"s":"DGPS"},{"d":994,"r":5.39,"s":"DGPS"},{"d":998,"r":4.75,"s":"DGPS"}
]},
"mark": {"type": "circle", "size": 38, "opacity": 1},
"encoding": {
 "x": {"field": "d", "type": "quantitative", "scale": {"domain": [0, 1000], "nice": false}, "axis": {"title": "Distance from beacon (km)", "values": [0, 200, 400, 600, 800, 1000], "format": "d", "grid": true, "titleBaseline": "middle", "titleY": 39}},
 "y": {"field": "r", "type": "quantitative", "scale": {"domain": [0, 10], "nice": false}, "axis": {"title": "95% scatter radius (m)", "values": [0, 1, 2, 3, 4, 5, 6, 7, 8, 9, 10], "format": "d", "grid": true, "titleBaseline": "middle", "titleX": -35}},
 "color": {"field": "s", "type": "nominal", "scale": {"domain": ["GPS", "DGPS"], "range": ["#0030ff", "#ff2a00"]},
   "legend": {"title": null, "orient": "none", "legendX": 440, "legendY": 5, "fillColor": "#ffffff", "strokeColor": "#000000", "padding": 8, "labelFontSize": 16, "labelFontWeight": "bold", "labelFont": "Liberation Sans", "labelColor": "#000", "symbolSize": 38, "symbolType": "circle", "rowPadding": 8, "symbolOffset": 12, "labelOffset": 14, "cornerRadius": 0}}
}
},
{
"data": {"values": [{"d": 0, "r": 2.48}, {"d": 1000, "r": 4.97}]},
"mark": {"type": "line", "color": "#000", "strokeWidth": 3.5, "strokeDash": [7, 4]},
"encoding": {"x": {"field": "d", "type": "quantitative"}, "y": {"field": "r", "type": "quantitative"}}
},
{
"data": {"values": [{"d": 420, "r": 2.67, "t": "DGPS slope = 0.25 m/100km"}]},
"mark": {"type": "text", "align": "left", "baseline": "middle", "fontSize": 17, "fontWeight": "bold", "font": "Liberation Sans", "color": "#000"},
"encoding": {"x": {"field": "d", "type": "quantitative"}, "y": {"field": "r", "type": "quantitative"}, "text": {"field": "t"}}
}
]
}
